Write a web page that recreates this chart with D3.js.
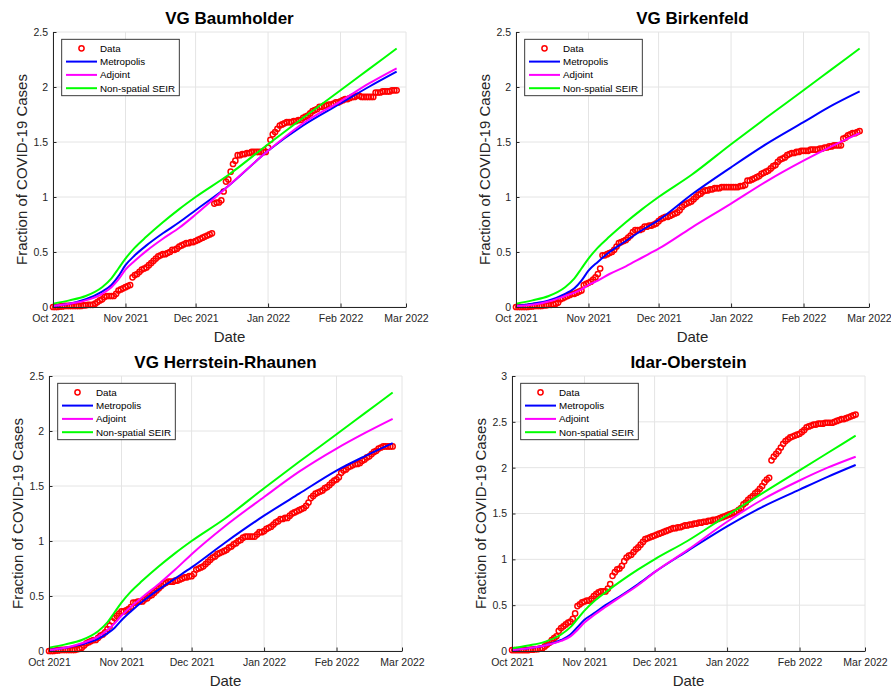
<!DOCTYPE html>
<html>
<head>
<meta charset="utf-8">
<script src="https://cdn.jsdelivr.net/npm/d3@7"></script>
<style>
  body { margin: 0; background: #fff; }
  svg { display: block; font-family: "Liberation Sans", Arial, sans-serif; }
</style>
</head>
<body>
<svg id="chart" width="891" height="688"></svg>
<script>
// daily observed fractions, Oct 1 2021 onward (index = day)
const baumData = [0, 0, 0, 0.005, 0.005, 0.01, 0.01, 0.01, 0.01, 0.01,
  0.01, 0.01, 0.01, 0.015, 0.015, 0.02, 0.02, 0.02, 0.03, 0.045,
  0.06, 0.07, 0.09, 0.1, 0.1, 0.1, 0.1, 0.12, 0.15, 0.16,
  0.17, 0.18, 0.19, 0.2, 0.27, 0.29, 0.3, 0.32, 0.34, 0.35,
  0.36, 0.38, 0.4, 0.42, 0.44, 0.46, 0.47, 0.48, 0.48, 0.49,
  0.5, 0.52, 0.52, 0.53, 0.55, 0.56, 0.57, 0.58, 0.58, 0.59,
  0.59, 0.6, 0.61, 0.62, 0.63, 0.64, 0.65, 0.66, 0.67, 0.94,
  0.95, 0.95, 0.97, 1.05, 1.14, 1.16, 1.23, 1.3, 1.33, 1.38,
  1.38, 1.39, 1.39, 1.4, 1.4, 1.41, 1.41, 1.41, 1.41, 1.41,
  1.41, 1.41, 1.45, 1.52, 1.57, 1.59, 1.62, 1.65, 1.66, 1.67,
  1.68, 1.68, 1.68, 1.69, 1.69, 1.7, 1.7, 1.72, 1.73, 1.74,
  1.76, 1.78, 1.79, 1.8, 1.82, 1.82, 1.83, 1.83, 1.84, 1.84,
  1.85, 1.86, 1.86, 1.87, 1.88, 1.89, 1.89, 1.9, 1.91, 1.91,
  1.92, 1.92, 1.91, 1.91, 1.91, 1.91, 1.91, 1.91, 1.95, 1.95,
  1.95, 1.96, 1.96, 1.96, 1.96, 1.97, 1.97, 1.97]

const birkData = [0, 0, 0, 0, 0, 0, 0.005, 0.005, 0.01, 0.01,
  0.01, 0.01, 0.015, 0.015, 0.02, 0.02, 0.025, 0.03, 0.04, 0.07,
  0.08, 0.09, 0.1, 0.11, 0.12, 0.12, 0.13, 0.14, 0.15, 0.2,
  0.21, 0.22, 0.23, 0.25, 0.27, 0.3, 0.35, 0.47, 0.47, 0.48,
  0.49, 0.5, 0.52, 0.55, 0.58, 0.59, 0.6, 0.61, 0.63, 0.65,
  0.68, 0.7, 0.7, 0.7, 0.71, 0.73, 0.73, 0.74, 0.74, 0.75,
  0.76, 0.78, 0.8, 0.81, 0.82, 0.82, 0.83, 0.84, 0.85, 0.86,
  0.88, 0.91, 0.93, 0.94, 0.95, 0.96, 0.98, 1.0, 1.02, 1.03,
  1.05, 1.06, 1.06, 1.07, 1.07, 1.08, 1.08, 1.08, 1.09, 1.09,
  1.09, 1.09, 1.09, 1.09, 1.09, 1.09, 1.1, 1.1, 1.11, 1.15,
  1.15, 1.16, 1.17, 1.18, 1.19, 1.21, 1.22, 1.23, 1.24, 1.26,
  1.28, 1.29, 1.32, 1.34, 1.35, 1.36, 1.38, 1.39, 1.4, 1.4,
  1.41, 1.41, 1.42, 1.42, 1.42, 1.42, 1.43, 1.43, 1.43, 1.43,
  1.44, 1.44, 1.45, 1.45, 1.46, 1.46, 1.47, 1.47, 1.47, 1.47,
  1.53, 1.54, 1.56, 1.57, 1.58, 1.58, 1.59, 1.6]

const herrData = [0, 0, 0, 0.005, 0.005, 0.01, 0.01, 0.01, 0.01, 0.01,
  0.01, 0.01, 0.015, 0.02, 0.03, 0.05, 0.07, 0.08, 0.09, 0.1,
  0.1, 0.12, 0.14, 0.15, 0.17, 0.2, 0.23, 0.27, 0.3, 0.32,
  0.34, 0.36, 0.36, 0.37, 0.38, 0.4, 0.44, 0.44, 0.45, 0.45,
  0.45, 0.47, 0.48, 0.5, 0.51, 0.53, 0.55, 0.57, 0.59, 0.61,
  0.62, 0.63, 0.63, 0.63, 0.64, 0.64, 0.65, 0.66, 0.67, 0.67,
  0.68, 0.68, 0.7, 0.74, 0.75, 0.76, 0.77, 0.79, 0.81, 0.83,
  0.85, 0.86, 0.88, 0.89, 0.9, 0.91, 0.92, 0.94, 0.95, 0.97,
  0.98, 1.0, 1.01, 1.03, 1.04, 1.04, 1.04, 1.04, 1.04, 1.06,
  1.08, 1.08, 1.09, 1.11, 1.12, 1.13, 1.15, 1.17, 1.18, 1.2,
  1.2, 1.21, 1.21, 1.23, 1.25, 1.26, 1.27, 1.28, 1.29, 1.3,
  1.32, 1.35, 1.39, 1.41, 1.43, 1.44, 1.45, 1.46, 1.48, 1.49,
  1.51, 1.53, 1.55, 1.56, 1.58, 1.62, 1.64, 1.65, 1.67, 1.68,
  1.69, 1.7, 1.7, 1.71, 1.73, 1.74, 1.76, 1.77, 1.79, 1.81,
  1.82, 1.84, 1.85, 1.86, 1.86, 1.86, 1.86, 1.86]

const idarData = [0.01, 0.01, 0.01, 0.01, 0.01, 0.01, 0.01, 0.01, 0.015, 0.015,
  0.02, 0.02, 0.025, 0.03, 0.05, 0.07, 0.09, 0.12, 0.14, 0.16,
  0.22, 0.25, 0.27, 0.29, 0.31, 0.32, 0.35, 0.41, 0.49, 0.51,
  0.53, 0.54, 0.55, 0.55, 0.57, 0.6, 0.62, 0.64, 0.65, 0.65,
  0.65, 0.68, 0.73, 0.82, 0.86, 0.89, 0.9, 0.93, 0.98, 1.02,
  1.04, 1.05, 1.08, 1.11, 1.13, 1.16, 1.19, 1.22, 1.23, 1.24,
  1.25, 1.26, 1.27, 1.28, 1.29, 1.3, 1.31, 1.32, 1.33, 1.34,
  1.34, 1.35, 1.35, 1.36, 1.37, 1.37, 1.38, 1.38, 1.39, 1.39,
  1.4, 1.4, 1.41, 1.41, 1.42, 1.42, 1.43, 1.43, 1.44, 1.45,
  1.46, 1.47, 1.48, 1.49, 1.5, 1.51, 1.52, 1.54, 1.56, 1.6,
  1.62, 1.65, 1.67, 1.69, 1.72, 1.74, 1.77, 1.8, 1.84, 1.87,
  1.89, 2.08, 2.12, 2.15, 2.18, 2.22, 2.26, 2.29, 2.31, 2.33,
  2.34, 2.35, 2.36, 2.37, 2.39, 2.41, 2.44, 2.45, 2.46, 2.47,
  2.47, 2.48, 2.48, 2.48, 2.49, 2.49, 2.49, 2.49, 2.5, 2.51,
  2.52, 2.53, 2.53, 2.54, 2.55, 2.56, 2.57, 2.58]

// model curves, sampled at these days since Oct 1
const modelDays = [0, 7, 14, 21, 25, 28, 31, 35, 40, 47, 54, 61, 75, 92, 107, 123, 135, 147]
const seir = [0.03, 0.06, 0.10, 0.18, 0.26, 0.35, 0.44, 0.54, 0.64, 0.77, 0.89, 1.00, 1.20, 1.48, 1.72, 1.97, 2.16, 2.35]

const baumMetro = [0.01, 0.03, 0.07, 0.14, 0.20, 0.28, 0.38, 0.47, 0.56, 0.67, 0.77, 0.88, 1.10, 1.42, 1.65, 1.85, 2.00, 2.14]
const baumAdj   = [0.01, 0.03, 0.06, 0.12, 0.18, 0.25, 0.34, 0.42, 0.51, 0.62, 0.72, 0.84, 1.10, 1.42, 1.67, 1.87, 2.03, 2.17]
const birkMetro = [0.01, 0.03, 0.06, 0.12, 0.17, 0.24, 0.33, 0.41, 0.50, 0.60, 0.70, 0.79, 1.02, 1.27, 1.48, 1.68, 1.83, 1.96]
const birkAdj   = [0.01, 0.02, 0.05, 0.10, 0.13, 0.16, 0.20, 0.24, 0.30, 0.37, 0.45, 0.53, 0.72, 0.94, 1.14, 1.33, 1.46, 1.58]
const herrMetro = [0.01, 0.03, 0.06, 0.11, 0.16, 0.21, 0.28, 0.36, 0.45, 0.56, 0.66, 0.76, 0.98, 1.23, 1.43, 1.64, 1.77, 1.89]
const herrAdj   = [0.01, 0.03, 0.07, 0.13, 0.19, 0.25, 0.32, 0.40, 0.49, 0.61, 0.74, 0.88, 1.13, 1.40, 1.63, 1.84, 1.98, 2.11]
const idarMetro = [0.01, 0.03, 0.06, 0.12, 0.18, 0.26, 0.34, 0.41, 0.50, 0.61, 0.73, 0.86, 1.09, 1.36, 1.57, 1.76, 1.90, 2.03]
const idarAdj   = [0.01, 0.03, 0.06, 0.11, 0.16, 0.23, 0.31, 0.39, 0.48, 0.60, 0.72, 0.86, 1.10, 1.41, 1.65, 1.86, 2.00, 2.12]

const legendLabels = ['Data', 'Metropolis', 'Adjoint', 'Non-spatial SEIR']
const monthTicks = ['2021-10-01', '2021-11-01', '2021-12-01', '2022-01-01', '2022-02-01', '2022-03-01']

const W = 353, H = 275
const start = new Date(2021, 9, 1), end = new Date(2022, 2, 1)
const axisColor = '#262626', gridColor = '#e4e4e4'

const panels = [
  { title: 'VG Baumholder', data: baumData, metro: baumMetro, adj: baumAdj, yMax: 2.5, left: 53, top: 32 },
  { title: 'VG Birkenfeld', data: birkData, metro: birkMetro, adj: birkAdj, yMax: 2.5, left: 516, top: 32 },
  { title: 'VG Herrstein-Rhaunen', data: herrData, metro: herrMetro, adj: herrAdj, yMax: 2.5, left: 49, top: 376 },
  { title: 'Idar-Oberstein', data: idarData, metro: idarMetro, adj: idarAdj, yMax: 3, left: 512, top: 376 }
]

const svg = d3.select('#chart')
const parse = d3.timeParse('%Y-%m-%d')
const months = monthTicks.map(parse)
const dayDate = (i) => d3.timeDay.offset(start, i)

panels.forEach(drawPanel)

function drawPanel(p) {
  const g = svg.append('g').attr('transform', `translate(${p.left},${p.top})`)

  const x = d3.scaleTime().domain([start, end]).range([0, W])
  const y = d3.scaleLinear().domain([0, p.yMax]).range([H, 0])
  const yTicks = d3.range(0, p.yMax + 0.001, 0.5)

  // grid
  g.append('g').selectAll('line.vg')
    .data(months).enter().append('line')
    .attr('x1', (d) => x(d)).attr('x2', (d) => x(d))
    .attr('y1', 0).attr('y2', H)
    .attr('stroke', gridColor)
  g.append('g').selectAll('line.hg')
    .data(yTicks).enter().append('line')
    .attr('x1', 0).attr('x2', W)
    .attr('y1', (d) => y(d)).attr('y2', (d) => y(d))
    .attr('stroke', gridColor)

  // observed data
  g.append('g').selectAll('circle')
    .data(p.data).enter().append('circle')
    .attr('cx', (d, i) => x(dayDate(i)))
    .attr('cy', (d) => y(d))
    .attr('r', 2.6)
    .attr('fill', 'none')
    .attr('stroke', '#ff0000')
    .attr('stroke-width', 1.5)

  const line = d3.line()
    .x((d) => x(dayDate(d[0])))
    .y((d) => y(d[1]))
    .curve(d3.curveMonotoneX)

  const series = [
    { vals: p.metro, color: '#0000ff' },
    { vals: p.adj, color: '#ff00ff' },
    { vals: seir, color: '#00ff00' }
  ]
  series.forEach(function(s) {
    g.append('path')
      .datum(modelDays.map((d, i) => [d, s.vals[i]]))
      .attr('d', line)
      .attr('fill', 'none')
      .attr('stroke', s.color)
      .attr('stroke-width', 2)
  })

  // axes
  const xAxis = g.append('g')
    .attr('transform', `translate(0,${H})`)
    .call(d3.axisBottom(x).tickValues(months)
      .tickFormat(d3.timeFormat('%b %Y'))
      .tickSizeInner(-3.5).tickSizeOuter(0).tickPadding(8))
  const yAxis = g.append('g')
    .call(d3.axisLeft(y).tickValues(yTicks)
      .tickFormat((d) => d)
      .tickSizeInner(-3.5).tickSizeOuter(0).tickPadding(5))
  ;[xAxis, yAxis].forEach(function(a) {
    a.select('.domain').attr('stroke', axisColor)
    a.selectAll('.tick line').attr('stroke', axisColor)
    a.selectAll('.tick text')
      .attr('fill', axisColor)
      .style('font-size', '10.5px')
      .style('font-family', '"Liberation Sans", Arial, sans-serif')
  })

  // title and labels
  g.append('text')
    .attr('x', W / 2).attr('y', -8)
    .attr('text-anchor', 'middle')
    .style('font-size', '17px').style('font-weight', 'bold')
    .attr('fill', '#000')
    .text(p.title)

  g.append('text')
    .attr('x', W / 2).attr('y', H + 34.5)
    .attr('text-anchor', 'middle')
    .style('font-size', '15px')
    .attr('fill', axisColor)
    .text('Date')

  g.append('text')
    .attr('transform', `translate(-26.5,${H / 2}) rotate(-90)`)
    .attr('text-anchor', 'middle')
    .style('font-size', '15px')
    .attr('fill', axisColor)
    .text('Fraction of COVID-19 Cases')

  // legend
  const lg = g.append('g').attr('transform', 'translate(8.7,7.3)')
  lg.append('rect')
    .attr('width', 117.6).attr('height', 56.4)
    .attr('fill', '#fff').attr('stroke', axisColor).attr('stroke-width', 0.9)

  const rows = lg.selectAll('g.row')
    .data(legendLabels).enter().append('g')
    .attr('transform', (d, i) => `translate(0,${9 + i * 13.3})`)

  rows.filter((d, i) => i === 0).append('circle')
    .attr('cx', 19.8).attr('cy', 0).attr('r', 2.6)
    .attr('fill', 'none').attr('stroke', '#ff0000').attr('stroke-width', 1.5)

  const legendColors = [null, '#0000ff', '#ff00ff', '#00ff00']
  rows.filter((d, i) => i > 0).append('line')
    .attr('x1', 4.3).attr('x2', 35.3)
    .attr('stroke', (d) => legendColors[legendLabels.indexOf(d)])
    .attr('stroke-width', 2)

  rows.append('text')
    .attr('x', 38.3)
    .attr('dy', '0.35em')
    .style('font-size', '9.8px')
    .attr('fill', '#000')
    .text((d) => d)
}
</script>
</body>
</html>
